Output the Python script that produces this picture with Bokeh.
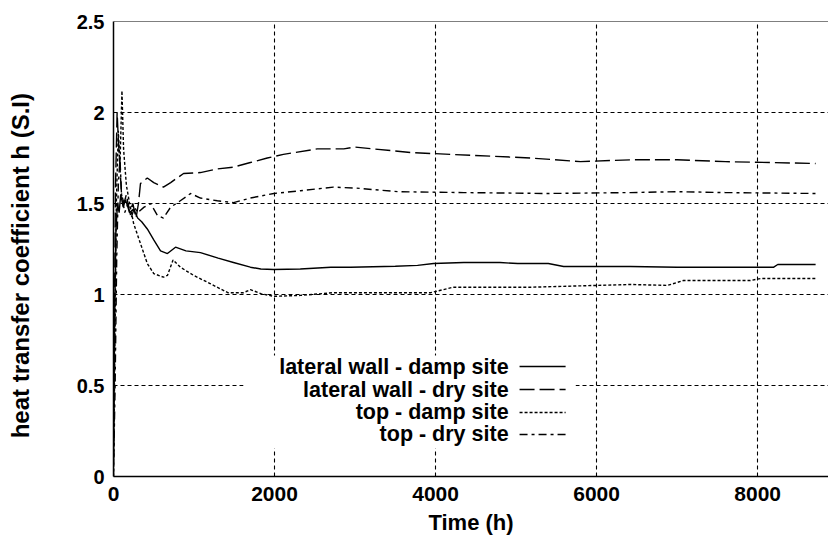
from bokeh.plotting import figure
from bokeh.models import Range1d, Span, BoxAnnotation, Label, FixedTicker
from bokeh.embed import file_html
from bokeh.resources import INLINE

# ---------------- data ----------------
wall_damp_x = [0, 15, 30, 50, 70, 90, 120, 150, 200, 250, 300, 350, 420, 500, 584, 670, 770, 900,
               1080, 1300, 1490, 1700, 1830, 1990, 2320, 2700, 2945, 3500, 3776, 3975, 4350, 4800,
               5020, 5400, 5590, 6420, 7000, 8200, 8250, 8720]
wall_damp_y = [0.10, 0.90, 1.35, 1.50, 1.45, 1.55, 1.48, 1.52, 1.45, 1.47, 1.42, 1.40, 1.36, 1.30,
               1.24, 1.225, 1.26, 1.24, 1.23, 1.20, 1.176, 1.15, 1.14, 1.137, 1.14, 1.15, 1.15,
               1.155, 1.16, 1.17, 1.176, 1.176, 1.17, 1.17, 1.154, 1.154, 1.15, 1.15, 1.165, 1.165]

wall_dry_x = [0, 10, 25, 45, 60, 80, 100, 130, 160, 200, 240, 280, 310, 335, 420, 500, 620, 710,
              870, 1080, 1290, 1490, 1700, 1910, 2110, 2530, 2860, 3000, 3690, 4430, 5180, 5800,
              6420, 7000, 7600, 8720]
wall_dry_y = [0.05, 0.80, 1.60, 2.00, 1.85, 1.70, 1.55, 1.50, 1.55, 1.45, 1.50, 1.42, 1.50, 1.61,
              1.64, 1.615, 1.59, 1.615, 1.665, 1.67, 1.69, 1.70, 1.725, 1.75, 1.77, 1.80, 1.80,
              1.81, 1.78, 1.765, 1.75, 1.73, 1.74, 1.74, 1.73, 1.72]

top_damp_x = [0, 15, 35, 60, 80, 105, 125, 160, 200, 250, 335, 420, 500, 620, 670, 740, 830, 995,
              1200, 1420, 1615, 1700, 1830, 1990, 2320, 2730, 3100, 3940, 4220, 5180, 6010, 6420,
              6880, 7080, 7910, 8040, 8720]
top_damp_y = [0.00, 0.60, 1.50, 1.90, 1.70, 2.12, 1.80, 1.60, 1.50, 1.39, 1.28, 1.17, 1.115, 1.095,
              1.105, 1.19, 1.15, 1.105, 1.06, 1.01, 1.01, 1.027, 1.005, 0.99, 0.995, 1.01, 1.01,
              1.01, 1.04, 1.04, 1.05, 1.055, 1.05, 1.077, 1.077, 1.088, 1.088]

top_dry_x = [0, 20, 40, 60, 80, 100, 140, 180, 220, 260, 300, 380, 460, 545, 620, 710, 830, 957,
             1080, 1290, 1490, 1700, 1990, 2320, 2730, 3000, 3530, 4350, 5390, 6420, 7000, 7600, 8720]
top_dry_y = [0.00, 0.50, 1.20, 1.60, 1.75, 1.55, 1.45, 1.50, 1.42, 1.48, 1.45, 1.48, 1.50, 1.435,
             1.42, 1.48, 1.515, 1.555, 1.53, 1.515, 1.505, 1.53, 1.555, 1.57, 1.59, 1.585, 1.565,
             1.56, 1.555, 1.56, 1.565, 1.56, 1.555]

x_ticks = [0, 2000, 4000, 6000, 8000]
y_ticks = [0, 0.5, 1, 1.5, 2, 2.5]
series_names = ["lateral wall - damp site", "lateral wall - dry site",
                "top - damp site", "top - dry site"]
x_title = "Time (h)"
y_title = "heat transfer coefficient h (S.I)"

# ---------------- styles ----------------
FONT = "Liberation Sans"
dashes = ["solid", "15 5", "3 2", "8 4 3 4"]

p = figure(width=828, height=541, output_backend="svg", toolbar_location=None,
           x_range=Range1d(0, 8880), y_range=Range1d(0, 2.5))
p.min_border_left = 113
p.min_border_right = 0
p.min_border_top = 21
p.min_border_bottom = 65
p.outline_line_color = None
p.background_fill_color = "white"
p.border_fill_color = "white"

# grid
for g in (p.xgrid, p.ygrid):
    g.grid_line_color = "black"
    g.grid_line_dash = "4 3"
    g.grid_line_width = 1.1
p.xgrid.ticker = FixedTicker(ticks=[2000, 4000, 6000, 8000])
p.ygrid.ticker = FixedTicker(ticks=[0.5, 1, 1.5, 2])

# axes
p.xaxis.ticker = FixedTicker(ticks=x_ticks)
p.yaxis.ticker = FixedTicker(ticks=y_ticks)
p.yaxis.major_label_overrides = {0: "0", 0.5: "0.5", 1: "1", 1.5: "1.5", 2: "2", 2.5: "2.5"}
for ax in (p.xaxis, p.yaxis):
    ax.axis_line_color = "black"
    ax.axis_line_width = 1.5
    ax.major_tick_line_color = None
    ax.minor_tick_line_color = None
    ax.major_tick_out = 0
    ax.major_tick_in = 0
    ax.minor_tick_out = 0
    ax.major_label_text_font = FONT
    ax.major_label_text_font_style = "bold"
    ax.major_label_text_color = "black"
    ax.axis_label_text_font = FONT
    ax.axis_label_text_font_style = "bold"
    ax.axis_label_text_color = "black"
p.xaxis.major_label_text_font_size = "21px"
p.yaxis.major_label_text_font_size = "20px"
p.xaxis.major_label_standoff = 10
p.yaxis.major_label_standoff = 9
p.xaxis.axis_label = x_title
p.xaxis.axis_label_text_font_size = "22px"
p.xaxis.axis_label_standoff = 6
# trailing no-break spaces nudge the rotated title slightly downward, as in the original
p.yaxis.axis_label = y_title + "\u00a0" * 5
p.yaxis.axis_label_text_font_size = "24px"
p.yaxis.axis_label_standoff = 40

# top border
p.add_layout(Span(location=2.5, dimension="width", line_color="black", line_width=1.2))

# data lines
xs = [wall_damp_x, wall_dry_x, top_damp_x, top_dry_x]
ys = [wall_damp_y, wall_dry_y, top_damp_y, top_dry_y]
for x, y, d in zip(xs, ys, dashes):
    p.line(x, y, line_color="black", line_width=1.4, line_dash=d)

# custom legend (labels right-aligned, samples on the right)
p.add_layout(BoxAnnotation(left=1615, right=5739, bottom=0.154, top=0.665,
                           fill_color="white", fill_alpha=1.0, line_color=None,
                           level="underlay"))
leg_text_x = 4907
leg_line_x0, leg_line_x1 = 5043, 5615
leg_rows = [0.604, 0.478, 0.352, 0.231]
for name, d, yr in zip(series_names, dashes, leg_rows):
    p.add_layout(Label(x=leg_text_x, y=yr, text=name, text_align="right",
                       text_baseline="middle", text_font=FONT, text_font_style="bold",
                       text_font_size="21.5px", text_color="black"))
    p.line([leg_line_x0, leg_line_x1], [yr, yr], line_color="black", line_width=1.4,
           line_dash=d)

open("out.html", "w").write(file_html(p, INLINE))
